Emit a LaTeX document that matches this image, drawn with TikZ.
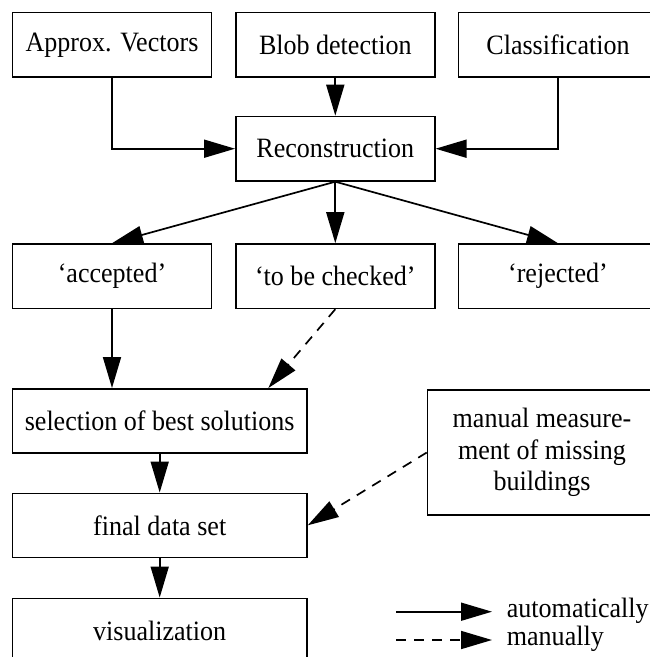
\documentclass[tikz,border=0pt]{standalone}
\usepackage{fontspec}
\setmainfont{Liberation Serif}[FakeStretch=0.93]
\usetikzlibrary{arrows.meta,calc}
\begin{document}
\begin{tikzpicture}[x=1pt,y=-1pt,
  box/.style={draw,line width=1.5pt,minimum width=199pt,minimum height=64.5pt,inner sep=0pt,
    font=\fontsize{28}{31.5}\selectfont,align=center},
  wbox/.style={box,minimum width=294.6pt,minimum height=64pt},
  conn/.style={line width=1.7pt,-{Triangle[length=31pt,width=18pt]}},
  dconn/.style={conn,dash pattern=on 10pt off 8pt},
  lbl/.style={inner sep=0pt,font=\fontsize{28}{31.5}\selectfont}]
\useasboundingbox (0,0) rectangle (650,657);
\clip (0,0) rectangle (650,657);
\fill[white] (0,0) rectangle (650,657);
% top row
\node[box] (approx) at (112,44.8) {Approx. Vectors};
\node[box] (blob) at (335.3,44.8) {Blob detection};
\node[box] (class) at (558,44.8) {Classification};
\node[box] (recon) at (335.3,148.7) {Reconstruction};
% middle row
\node[box] (acc) at (112,276.2) {`accepted'};
\node[box] (check) at (335.3,276.2) {`to be checked'};
\node[box] (rej) at (558,276.2) {`rejected'};
% lower
\node[wbox] (sel) at (159.7,420.8) {selection of best solutions};
\node[wbox] (final) at (159.7,525.3) {final data set};
\node[wbox,minimum height=66pt] (vis) at (159.7,631.3) {visualization};
\node[box,minimum width=229pt,minimum height=125pt] (manual) at (542,452.5)
  {manual measure-\\ment of missing\\buildings};
% connectors
\draw[conn] (approx.south) |- (recon.west);
\draw[conn] (blob.south) -- (recon.north);
\draw[conn] (class.south) |- (recon.east);
\draw[conn] (recon.south) -- (acc.north);
\draw[conn] (recon.south) -- (check.north);
\draw[conn] (recon.south) -- (rej.north);
\draw[conn] (acc.south) -- (acc.south |- sel.north);
\draw[dconn] (check.south) -- ([xshift=-39.4pt]sel.north east);
\draw[conn] (sel.south) -- (final.north);
\draw[conn] (final.south) -- (vis.north);
\draw[dconn] (manual.west) -- (final.east);
% legend
\coordinate (la1) at (396,611.7);
\coordinate (la2) at (492,611.7);
\coordinate (lm1) at (396,640);
\coordinate (lm2) at (492,640);
\draw[conn] (la1) -- (la2);
\draw[dconn] (lm1) -- (lm2);
\node[lbl,anchor=base west] (auto) at (506.7,617) {automatically};
\node[lbl,anchor=base west] (man) at (506.7,645.5) {manually};
\end{tikzpicture}
\end{document}
